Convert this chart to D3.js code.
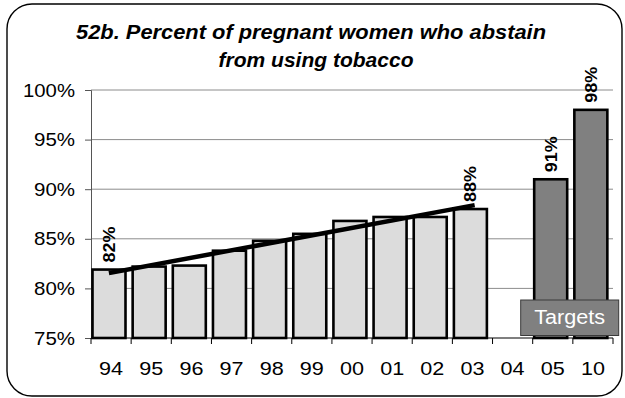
<!DOCTYPE html>
<html>
<head>
<meta charset="utf-8">
<script src="https://cdn.jsdelivr.net/npm/d3@7"></script>
<style>
  html, body { margin: 0; padding: 0; background: #fff; }
  svg { display: block; font-family: "Liberation Sans", Arial, sans-serif; }
</style>
</head>
<body>
<svg id="chart" width="625" height="398"></svg>
<script>
// ---- data ----
const categories = ["94","95","96","97","98","99","00","01","02","03","04","05","10"];
const actualYears = ["94","95","96","97","98","99","00","01","02","03"];
const actualValues = [81.9, 82.2, 82.3, 83.8, 84.8, 85.5, 86.8, 87.2, 87.2, 88.0];
const targetYears = ["05","10"];
const targetValues = [91, 98];
const yTicks = [75, 80, 85, 90, 95, 100];
const labelledActual = ["94","03"];
const titleLines = ["52b. Percent of pregnant women who abstain", "from using tobacco"];
const targetsLabel = "Targets";

// ---- layout ----
const svg = d3.select("#chart");
const plotLeft = 91, plotRight = 613, plotTop = 90, plotBottom = 338;

const x = d3.scaleBand().domain(categories).range([plotLeft, plotRight]).paddingInner(0).paddingOuter(0);
const y = d3.scaleLinear().domain([75, 100]).range([plotBottom, plotTop]);

// frame
svg.append("rect")
  .attr("x", 7).attr("y", 4).attr("width", 615).attr("height", 392)
  .attr("rx", 25).attr("ry", 25)
  .attr("fill", "#fff").attr("stroke", "#000").attr("stroke-width", 1.4);

// title
svg.append("text").attr("x", 311).attr("y", 39)
  .attr("text-anchor", "middle").attr("font-weight", "bold").attr("font-style", "italic")
  .attr("font-size", 20).attr("textLength", 470).attr("lengthAdjust", "spacingAndGlyphs")
  .text(titleLines[0]);
svg.append("text").attr("x", 316).attr("y", 67)
  .attr("text-anchor", "middle").attr("font-weight", "bold").attr("font-style", "italic")
  .attr("font-size", 20).attr("textLength", 195).attr("lengthAdjust", "spacingAndGlyphs")
  .text(titleLines[1]);

// gridlines
svg.append("g").selectAll("line").data(yTicks.filter(t => t > 75)).join("line")
  .attr("x1", plotLeft).attr("x2", plotRight)
  .attr("y1", d => y(d)).attr("y2", d => y(d))
  .attr("stroke", "#8c8c8c").attr("stroke-width", 1);

// y axis
const yAxis = d3.axisLeft(y).tickValues(yTicks).tickSize(6).tickPadding(10).tickFormat(d => d + "%");
const gy = svg.append("g").attr("transform", `translate(${plotLeft},0)`).call(yAxis);
gy.select(".domain").attr("stroke", "#555");
gy.selectAll(".tick line").attr("stroke", "#555");
gy.selectAll(".tick text").attr("font-size", 19).attr("fill", "#000")
  .attr("font-family", "'Liberation Sans', Arial, sans-serif")
  .attr("textLength", d => d >= 100 ? 52 : 41).attr("lengthAdjust", "spacingAndGlyphs");

// bars (actual)
const barOff = 1.5, barW = 33;
svg.append("g").selectAll("rect").data(actualYears.map((c, i) => ({c, v: actualValues[i]}))).join("rect")
  .attr("x", d => x(d.c) + barOff).attr("width", barW)
  .attr("y", d => y(d.v)).attr("height", d => y(75) - y(d.v))
  .attr("fill", "#dcdcdc").attr("stroke", "#000").attr("stroke-width", 2.6);

// bars (targets)
svg.append("g").selectAll("rect").data(targetYears.map((c, i) => ({c, v: targetValues[i]}))).join("rect")
  .attr("x", d => x(d.c) + barOff).attr("width", barW)
  .attr("y", d => y(d.v)).attr("height", d => y(75) - y(d.v))
  .attr("fill", "#808080").attr("stroke", "#000").attr("stroke-width", 2.6);

// trend line (least squares fit of actual values)
const n = actualValues.length;
const mx = (n - 1) / 2;
const my = d3.mean(actualValues);
let sxy = 0, sxx = 0;
actualValues.forEach((v, i) => { sxy += (i - mx) * (v - my); sxx += (i - mx) * (i - mx); });
const slope = sxy / sxx;
const trend = [0, n - 1].map(i => ({c: actualYears[i], v: my + slope * (i - mx)}));
svg.append("path")
  .attr("d", d3.line().x(d => x(d.c) + x.bandwidth() / 2).y(d => y(d.v))(trend))
  .attr("fill", "none").attr("stroke", "#000").attr("stroke-width", 4.5).attr("stroke-linecap", "square");

// x axis
const xAxis = d3.axisBottom(x).tickSize(0).tickPadding(0);
const gx = svg.append("g").attr("transform", `translate(0,${plotBottom})`).call(xAxis);
gx.select(".domain").remove();
svg.append("line").attr("x1", plotLeft).attr("x2", plotRight).attr("y1", plotBottom).attr("y2", plotBottom)
  .attr("stroke", "#000").attr("stroke-width", 1.2);
svg.append("g").selectAll("line").data(categories.concat(["__end"])).join("line")
  .attr("x1", d => d === "__end" ? plotRight : x(d)).attr("x2", d => d === "__end" ? plotRight : x(d))
  .attr("y1", plotBottom).attr("y2", plotBottom + 6)
  .attr("stroke", "#000").attr("stroke-width", 1);
gx.selectAll(".tick text").attr("font-size", 19).attr("fill", "#000")
  .attr("font-family", "'Liberation Sans', Arial, sans-serif")
  .attr("dy", 0).attr("y", 37)
  .attr("textLength", 24).attr("lengthAdjust", "spacingAndGlyphs");

// value labels
const labels = actualYears.map((c, i) => ({c, v: actualValues[i]})).filter(d => labelledActual.includes(d.c))
  .concat(targetYears.map((c, i) => ({c, v: targetValues[i]})));
svg.append("g").selectAll("text").data(labels).join("text")
  .attr("transform", d => `translate(${x(d.c) + barOff + barW / 2 + 6},${y(d.v) - 7}) rotate(-90)`)
  .attr("font-size", 16).attr("font-weight", "bold")
  .attr("textLength", 36).attr("lengthAdjust", "spacingAndGlyphs")
  .text(d => Math.round(d.v) + "%");

// Targets box
const tbx = x("05") - 12, tbw = 98;
svg.append("rect").attr("x", tbx).attr("y", 300).attr("width", tbw).attr("height", 35.5)
  .attr("fill", "#808080").attr("stroke", "#3a3a3a").attr("stroke-width", 1);
svg.append("text").attr("x", tbx + tbw / 2).attr("y", 323.5).attr("text-anchor", "middle")
  .attr("fill", "#fff").attr("font-size", 20).attr("textLength", 71).attr("lengthAdjust", "spacingAndGlyphs")
  .text(targetsLabel);
</script>
</body>
</html>
